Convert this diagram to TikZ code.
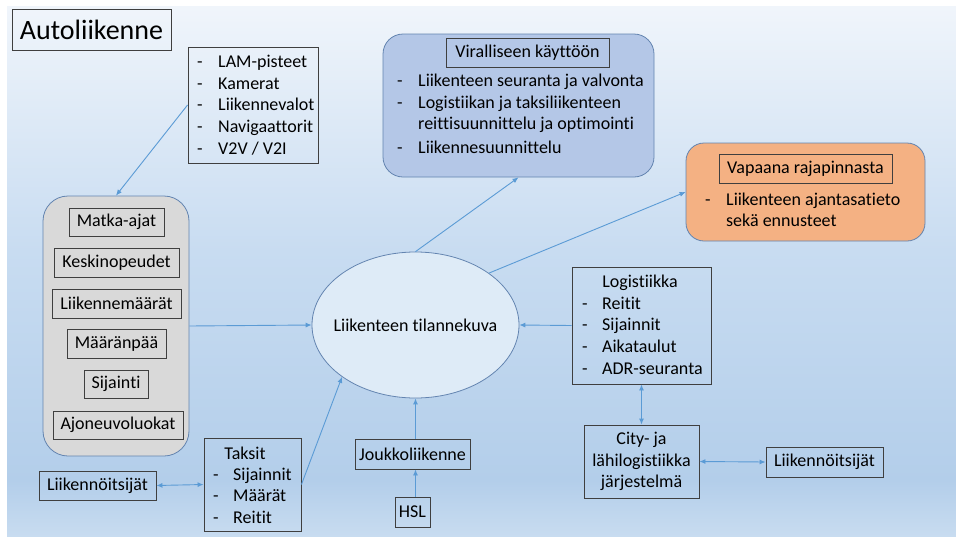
\documentclass[tikz,border=0pt]{standalone}
\usepackage{fontspec}
\setmainfont{Carlito}[Ligatures=NoCommon]
\usetikzlibrary{arrows.meta,shapes.geometric}

\definecolor{bgA}{HTML}{F0F5FB}
\definecolor{bgB}{HTML}{C8DCF1}
\definecolor{bgC}{HTML}{B3CEEA}
\definecolor{bgD}{HTML}{C8DCF0}
\definecolor{boxline}{HTML}{3F3F3F}
\definecolor{panelline}{HTML}{6384B0}
\definecolor{linkblue}{HTML}{5B9BD5}
\definecolor{offblue}{HTML}{B4C7E7}
\definecolor{freeorange}{HTML}{F4B183}
\definecolor{panelgray}{HTML}{D9D9D9}
\definecolor{ellipsefill}{HTML}{DEEBF7}

% one dashed list entry: dash, then the text at a fixed indent
\newcommand\dashitem[1]{\makebox[21pt][l]{-}#1}

\begin{document}
\begin{tikzpicture}[x=1pt,y=-1pt,
  every node/.style={font=\fontsize{18}{21.6}\selectfont, text=black},
  sized/.style 2 args={minimum width=#1pt, minimum height=#2pt},
  box/.style={draw=boxline, line width=0.9pt, inner sep=0pt},
  panel/.style={draw=panelline, line width=0.8pt, rounded corners=20pt, inner sep=0pt},
  list/.style={align=left, inner sep=0pt, anchor=west},
  link/.style={draw=linkblue, line width=0.9pt, -{Latex[length=6pt,width=5pt]}},
  twoway/.style={link, {Latex[length=6pt,width=5pt]}-{Latex[length=6pt,width=5pt]}},
]
\useasboundingbox (0,0) rectangle (956,536);
\fill[white] (0,0) rectangle (956,536);

% background panel with a vertical gradient
\shade[top color=bgA, bottom color=bgB] (7,6) rectangle (956,250.5);
\shade[top color=bgB, bottom color=bgC] (7,250) rectangle (956,480.5);
\shade[top color=bgC, bottom color=bgD] (7,480) rectangle (956,536);

% heading
\node[box, sized={159}{41}, font=\fontsize{28}{32}\selectfont] (title) at (91.5,29.5) {Autoliikenne};

% sensor sources
\node[box, sized={130}{116}] (sensors) at (253,105) {};
\node[list] (sensorlist) at (197,105) {\dashitem{LAM-pisteet}\\ \dashitem{Kamerat}\\ \dashitem{Liikennevalot}\\ \dashitem{Navigaattorit}\\ \dashitem{V2V / V2I}};

% official use
\node[panel, fill=offblue, sized={271}{143}] (official) at (518.5,105.5) {};
\node[box, sized={163}{29}] (officialhead) at (527.5,52.5) {Viralliseen käyttöön};
\node[list] (officiallist) at (397,114) {\dashitem{Liikenteen seuranta ja valvonta}\\ \dashitem{Logistiikan ja taksiliikenteen}\\ \hspace*{21pt}reittisuunnittelu ja optimointi\\[2pt] \dashitem{Liikennesuunnittelu}};

% open interface
\node[panel, fill=freeorange, rounded corners=18pt, sized={239}{98}] (open) at (805.5,192) {};
\node[box, sized={173}{29}] (openhead) at (805.5,168.5) {Vapaana rajapinnasta};
\node[list] (openlist) at (705,210) {\dashitem{Liikenteen ajantasatieto}\\ \hspace*{21pt}sekä ennusteet};

% road traffic data
\node[panel, fill=panelgray, rounded corners=25pt, sized={146}{260}] (sources) at (116,326) {};
\node[box, sized={95}{28}] (traveltime) at (116.5,222) {Matka-ajat};
\node[box, sized={125}{29}] (speeds) at (116.5,262.5) {Keskinopeudet};
\node[box, sized={129}{29}] (volumes) at (116.5,303.5) {Liikennemäärät};
\node[box, sized={99}{29}] (destination) at (116.5,343.5) {Määränpää};
\node[box, sized={64}{28}] (location) at (116,384) {Sijainti};
\node[box, sized={130}{28}] (vehicleclass) at (118,425) {Ajoneuvoluokat};

% situational picture
\node[ellipse, draw=panelline, line width=0.8pt, fill=ellipsefill, sized={207}{146}, inner sep=0pt] (situation) at (415.5,325) {};
\node[inner sep=0pt] (situationtext) at (situation.center) {Liikenteen tilannekuva};

% taxis
\node[box, sized={97}{93}] (taxis) at (252.5,484.5) {};
\node[inner sep=0pt] (taxishead) at (245,453) {Taksit};
\node[list] (taxislist) at (213,495.5) {\makebox[20pt][l]{-}Sijainnit\\ \makebox[20pt][l]{-}Määrät\\ \makebox[20pt][l]{-}Reitit};
\node[box, sized={117}{29}] (opwest) at (97.5,485.5) {Liikennöitsijät};

% public transport
\node[box, sized={115}{30}] (transit) at (412.5,454) {Joukkoliikenne};
\node[box, sized={35}{30}] (hsl) at (412.5,512) {HSL};

% logistics
\node[box, sized={139}{117}] (logistics) at (641.5,325.5) {};
\node[inner sep=0pt] (logisticshead) at (640,283) {Logistiikka};
\node[list] (logisticslist) at (582,335.5) {\makebox[20pt][l]{-}Reitit\\ \makebox[20pt][l]{-}Sijainnit\\ \makebox[20pt][l]{-}Aikataulut\\ \makebox[20pt][l]{-}ADR-seuranta};
\node[box, sized={115}{73}, align=center] (city) at (641.5,461.5) {City- ja\\ lähilogistiikka\\ järjestelmä};
\node[box, sized={117}{30}] (opeast) at (824.5,462) {Liikennöitsijät};

% connectors
\draw[link] (sensors.west) -- (sources.north);
\draw[link] (sources.east) -- (situation.west);
\draw[link] (logistics.west) -- (situation.east);
\draw[link] (transit.north -| situation.south) -- (situation.south);
\draw[link] (hsl.north -| situation.south) -- (transit.south -| situation.south);
\draw[link] (taxis.east) -- (situation.south west);
\draw[link] (situation.north) -- (official.south);
\draw[link] (situation.north east) -- (open.west);
\draw[twoway] (opwest.east) -- (taxis.west);
\draw[twoway] (logistics.south) -- (city.north);
\draw[twoway] (city.east) -- (opeast.west);
\end{tikzpicture}
\end{document}
